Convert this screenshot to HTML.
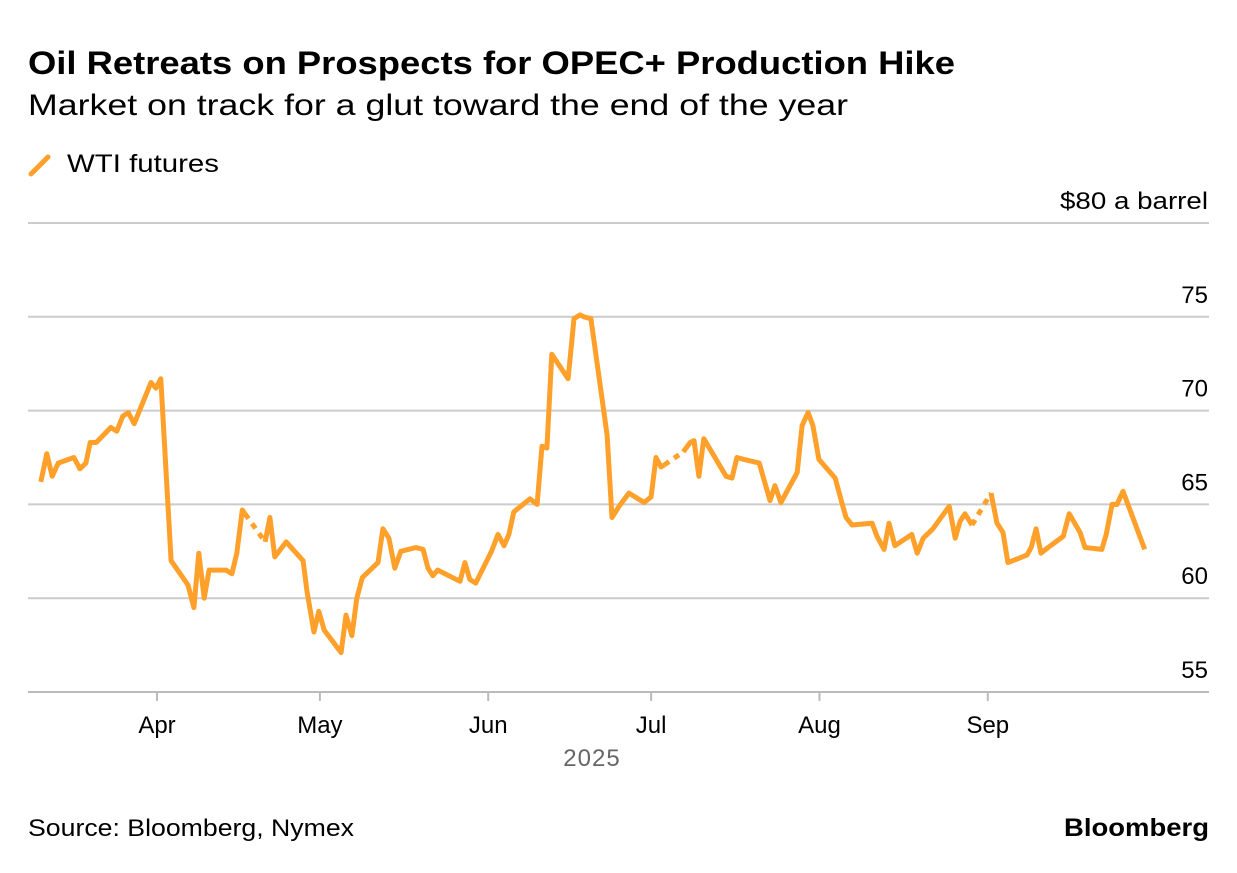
<!DOCTYPE html>
<html><head><meta charset="utf-8"><style>
body{margin:0;background:#fff;font-family:"Liberation Sans",sans-serif;}
svg text{font-family:"Liberation Sans",sans-serif;}
</style></head><body>
<svg width="1237" height="868" xmlns="http://www.w3.org/2000/svg">
<text x="28" y="74" font-size="32" font-weight="bold" fill="#000" textLength="927" lengthAdjust="spacingAndGlyphs">Oil Retreats on Prospects for OPEC+ Production Hike</text>
<text x="28" y="115" font-size="30" fill="#000" textLength="820" lengthAdjust="spacingAndGlyphs">Market on track for a glut toward the end of the year</text>
<g>
<line x1="31" y1="174" x2="48" y2="157" stroke="#ffa02b" stroke-width="5" stroke-linecap="round"/>
<text x="67" y="172" font-size="25" fill="#000" textLength="152" lengthAdjust="spacingAndGlyphs">WTI futures</text>
</g>
<g id="grid"></g>
<g id="xaxis"></g>
<g id="plot"></g>
<text x="592" y="766" font-size="24" fill="#666" text-anchor="middle" letter-spacing="1">2025</text>
<text x="28" y="836" font-size="24" fill="#000" textLength="326" lengthAdjust="spacingAndGlyphs">Source: Bloomberg, Nymex</text>
<text x="1064" y="836" font-size="25" font-weight="bold" fill="#000" textLength="145" lengthAdjust="spacingAndGlyphs">Bloomberg</text>
</svg>
<script>
const yTicks=[55,60,65,70,75,80];
const yTickLabels=["55","60","65","70","75","$80 a barrel"];
const monthLabels=["Apr","May","Jun","Jul","Aug","Sep"];
const monthDays=[0,30,61,91,122,153];
// days since Apr 1; null marks a gap (drawn dashed)
const days=[-21.4,-20.3,-19.3,-18.2,-15.3,-14.2,-13.1,-12.3,-11.2,-8.5,-7.4,-6.3,-5.3,-4.2,-1.1,-0.2,0.7,2.6,5.7,6.8,7.7,8.7,9.6,12.7,13.8,14.7,15.7,16.2,null,19.9,20.8,21.7,23.8,26.9,27.6,28.9,29.8,30.8,33.9,34.8,35.9,36.8,37.8,40.7,41.6,42.7,43.8,44.9,47.7,49.0,49.9,50.8,51.7,55.8,56.7,57.6,58.7,61.6,62.8,63.9,64.8,65.7,68.7,70.0,70.9,71.8,72.7,75.7,76.8,77.9,78.6,79.9,82.9,83.8,85.1,86.9,89.7,91.0,91.9,92.8,93.4,null,96.9,98.2,98.9,99.8,100.7,104.8,105.9,106.8,108.1,110.9,112.9,113.8,114.9,117.9,118.8,119.9,120.8,121.9,124.9,126.2,126.9,128.0,131.7,132.6,133.9,134.8,135.9,139.0,140.0,141.1,142.9,145.9,147.0,147.9,148.8,150.1,null,153.6,154.7,155.8,156.7,160.2,161.0,161.9,162.8,164.1,166.9,168.0,170.0,170.9,174.0,174.8,175.9,176.8,177.9,179.7,181.9];
const prices=[66.2,67.7,66.5,67.2,67.5,66.9,67.2,68.3,68.3,69.1,68.9,69.7,69.9,69.3,71.5,71.2,71.7,62.0,60.7,59.5,62.4,60.0,61.5,61.5,61.3,62.4,64.7,64.5,null,63.0,64.3,62.2,63.0,62.0,60.4,58.2,59.3,58.3,57.1,59.1,58.0,60.0,61.1,61.9,63.7,63.2,61.6,62.5,62.7,62.6,61.6,61.2,61.5,60.9,61.9,61.0,60.8,62.5,63.4,62.8,63.4,64.6,65.3,65.0,68.1,68.0,73.0,71.7,74.9,75.1,75.0,74.9,68.7,64.3,64.9,65.6,65.1,65.4,67.5,67.0,67.1,null,67.8,68.3,68.4,66.5,68.5,66.5,66.4,67.5,67.4,67.2,65.2,66.0,65.1,66.7,69.2,69.9,69.2,67.4,66.4,65.0,64.3,63.9,64.0,63.3,62.6,64.0,62.8,63.4,62.4,63.2,63.7,64.9,63.2,64.1,64.5,63.9,null,65.6,64.0,63.5,61.9,62.3,62.7,63.7,62.4,62.7,63.3,64.5,63.5,62.7,62.6,63.4,65.0,65.0,65.7,64.3,62.6];
const xS=d=>157+d*5.43;
const yS=v=>223+(80-v)*18.76;
const NS="http://www.w3.org/2000/svg";
const grid=document.getElementById('grid');
yTicks.forEach((t,i)=>{
 const l=document.createElementNS(NS,'line');
 
 
 l.setAttribute('x1',28);l.setAttribute('x2',1209);
 l.setAttribute('y1',yS(t));l.setAttribute('y2',yS(t));
 l.setAttribute('stroke',i===0?'#bbb':'#ccc');l.setAttribute('stroke-width',2);
 grid.appendChild(l);
 const tx=document.createElementNS(NS,'text');
 
 
 tx.setAttribute('x',1208);tx.setAttribute('y',yS(t)-14);
 tx.setAttribute('text-anchor','end');tx.setAttribute('font-size','24');
 if(yTickLabels[i].length>3){tx.setAttribute('textLength','148');tx.setAttribute('lengthAdjust','spacingAndGlyphs');}
 tx.textContent=yTickLabels[i];grid.appendChild(tx);
});
const xa=document.getElementById('xaxis');
monthDays.forEach((d,i)=>{
 const l=document.createElementNS(NS,'line');
 
 
 l.setAttribute('x1',xS(d));l.setAttribute('x2',xS(d));
 l.setAttribute('y1',yS(55));l.setAttribute('y2',yS(55)+9);
 l.setAttribute('stroke','#bbb');l.setAttribute('stroke-width',2);
 xa.appendChild(l);
 const tx=document.createElementNS(NS,'text');
 
 
 tx.setAttribute('x',xS(d));tx.setAttribute('y',733);
 tx.setAttribute('text-anchor','middle');tx.setAttribute('font-size','24');
 tx.textContent=monthLabels[i];xa.appendChild(tx);
});
const plot=document.getElementById('plot');
let runs=[[]];
days.forEach((d,i)=>{ if(d===null||prices[i]===null){runs.push([]);} else runs[runs.length-1].push([xS(d),yS(prices[i])]); });
runs=runs.filter(r=>r.length);
function mk(pts,dashed){
 const p=document.createElementNS(NS,'polyline');
 
 
 p.setAttribute('points',pts.map(q=>q[0].toFixed(1)+','+q[1].toFixed(1)).join(' '));
 p.setAttribute('fill','none');p.setAttribute('stroke','#ffa02b');
 p.setAttribute('stroke-width',5);p.setAttribute('stroke-linejoin','round');
 if(dashed)p.setAttribute('stroke-dasharray','6 6');
 plot.appendChild(p);
}
runs.forEach((r,i)=>{ mk(r,false); if(i<runs.length-1) mk([r[r.length-1],runs[i+1][0]],true); });
</script>
</body></html>
